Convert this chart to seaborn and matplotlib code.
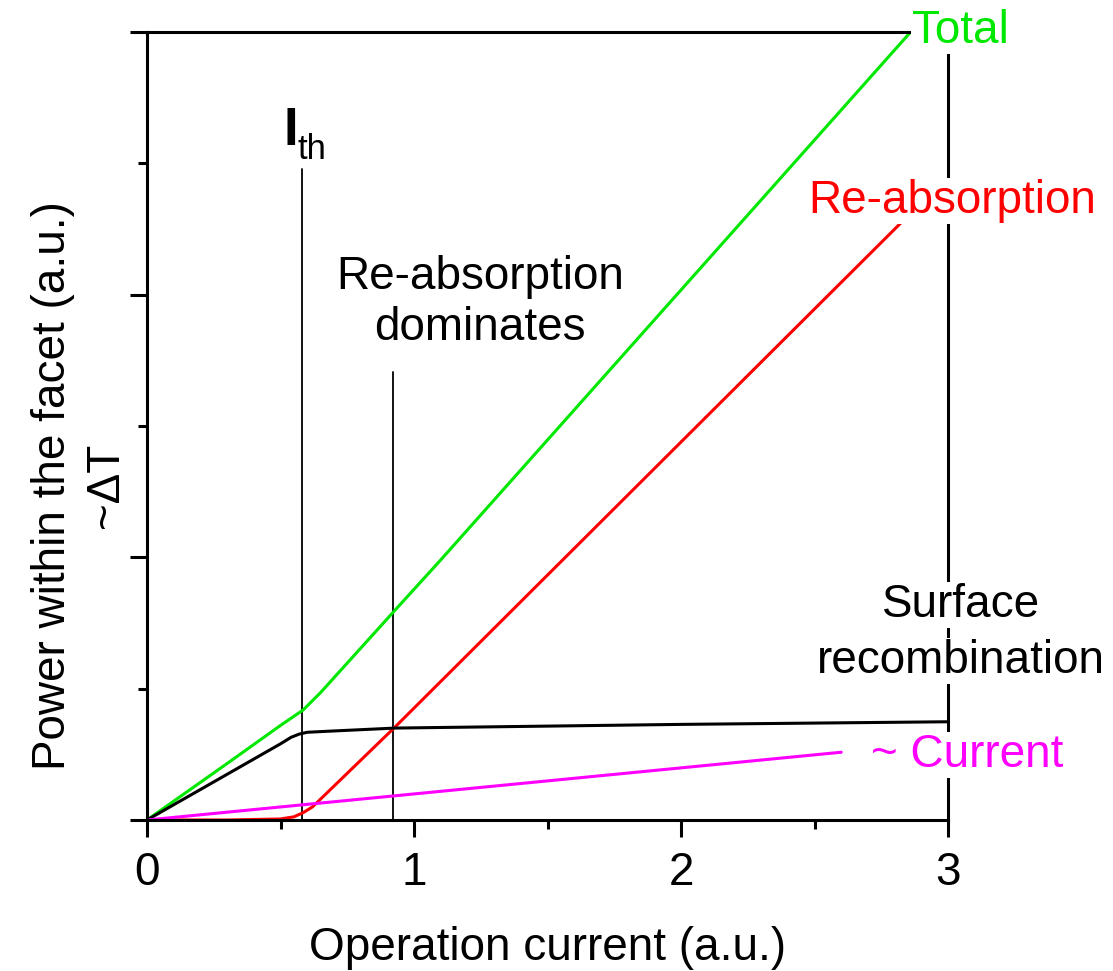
import matplotlib
matplotlib.use("Agg")
import matplotlib.pyplot as plt
import numpy as np
import pandas as pd
import seaborn as sns

# ---- data -----------------------------------------------------------------
total_x = [0.0, 0.3, 0.5, 0.585, 0.65, 0.93, 1.1, 2.86]
total_y = [0.0, 0.215, 0.36, 0.419, 0.485, 0.80, 0.99, 3.0]

reabs_x = [0.0, 0.3, 0.5, 0.55, 0.585, 0.62, 0.93, 2.85]
reabs_y = [0.0, 0.0, 0.004, 0.012, 0.028, 0.05, 0.355, 2.30]

surf_x = [0.0, 0.5, 0.54, 0.57, 0.6, 0.7, 0.93, 2.0, 3.0]
surf_y = [0.0, 0.29, 0.315, 0.327, 0.334, 0.339, 0.35, 0.364, 0.374]

curr_x = [0.0, 2.6]
curr_y = [0.0, 0.258]

series_names = ["Total", "Re-absorption", "Surface recombination", "~ Current"]
series_colors = ["#00e800", "#ff0000", "#000000", "#ff00ff"]

ith_x, ith_top = 0.58, 2.48
dom_x, dom_top = 0.92, 1.705

x_ticks = [0, 1, 2, 3]
x_minor = [0.5, 1.5, 2.5]
y_ticks = [0, 1, 2, 3]
y_minor = [0.5, 1.5, 2.5]

frames = []
for name, xs, ys in zip(series_names,
                        [total_x, reabs_x, surf_x, curr_x],
                        [total_y, reabs_y, surf_y, curr_y]):
    frames.append(pd.DataFrame({"current": xs, "power": ys, "series": name}))
df = pd.concat(frames, ignore_index=True)

# ---- style ----------------------------------------------------------------
sns.set_style("ticks")
plt.rcParams["font.family"] = ["Liberation Sans", "DejaVu Sans"]
plt.rcParams["font.size"] = 33
for key in ("text.color", "axes.labelcolor", "xtick.color", "ytick.color",
            "axes.edgecolor"):
    plt.rcParams[key] = "black"

fig = plt.figure(figsize=(11.13, 9.71), dpi=100)
ax = fig.add_axes([147 / 1113, 1 - 820 / 971, (948 - 147) / 1113, (820 - 32) / 971])

sns.lineplot(data=df, x="current", y="power", hue="series", units="series",
             estimator=None, sort=False, hue_order=series_names,
             palette=dict(zip(series_names, series_colors)),
             linewidth=2.2, legend=False, ax=ax)

# threshold and crossover markers
ax.plot([ith_x, ith_x], [0, ith_top], color="black", lw=1.3, zorder=1)
ax.plot([dom_x, dom_x], [0, dom_top], color="black", lw=1.3, zorder=1)

ax.set_xlim(0, 3)
ax.set_ylim(0, 3)
ax.set_xticks(x_ticks)
ax.set_xticks(x_minor, minor=True)
ax.set_yticks(y_ticks)
ax.set_yticks(y_minor, minor=True)
ax.set_yticklabels([])
ax.tick_params(axis="both", which="major", length=12.5, width=2.2, direction="out",
               labelsize=33, pad=10, color="black", labelcolor="black")
ax.tick_params(axis="both", which="minor", length=6.5, width=2.2, direction="out",
               color="black")
for sp in ax.spines.values():
    sp.set_linewidth(2.2)
    sp.set_color("black")
    sp.set_visible(True)

ax.set_xlabel("Operation current (a.u.)", fontsize=33, labelpad=22, color="black")
ax.set_ylabel("Power within the facet (a.u.)\n~\u0394T", fontsize=33,
              linespacing=1.25, color="black")
ax.yaxis.set_label_coords(-0.024, 0.425)

box = dict(facecolor="white", edgecolor="none", pad=0.5)
txt = dict(fontsize=33, clip_on=False, zorder=10)

ax.text(2.865, 2.958, "Total", color=series_colors[0], ha="left", va="baseline",
        bbox=box, **txt)
ax.text(2.476, 2.311, "Re-absorption", color=series_colors[1], ha="left",
        va="baseline", bbox=box, **txt)
ax.text(3.049, 0.773, "Surface", color="black", ha="center", va="baseline",
        bbox=box, **txt)
ax.text(3.049, 0.560, "recombination", color="black", ha="center", va="baseline",
        bbox=box, **txt)
ax.text(2.712, 0.202, "~ Current", color=series_colors[3], ha="left",
        va="baseline", bbox=box, **txt)
ax.text(1.247, 1.827, "Re-absorption\ndominates", color="black", ha="center",
        va="baseline", multialignment="center", linespacing=1.2, **txt)

# I_th label
ax.text(0.513, 2.569, "I", fontsize=38, fontweight="bold", ha="left",
        va="baseline", color="black", clip_on=False)
ax.text(0.565, 2.516, "th", fontsize=25, ha="left", va="baseline",
        color="black", clip_on=False)

fig.savefig("out.png", dpi=100, facecolor="white")
